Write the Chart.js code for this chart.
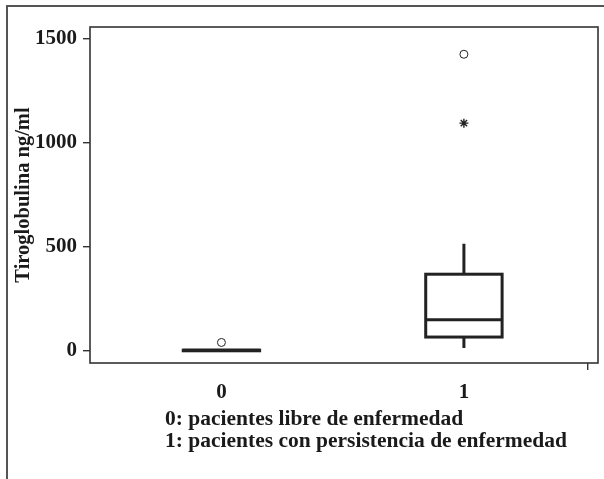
<!DOCTYPE html>
<html>
<head>
<meta charset="utf-8">
<script src="https://cdn.jsdelivr.net/npm/chart.js@4/dist/chart.umd.min.js"></script>
<style>
  html, body { margin: 0; padding: 0; background: #fff; }
  #wrap { position: relative; width: 604px; height: 479px; overflow: hidden; }
  #frame {
    position: absolute; left: 6px; top: 5px; width: 620px; height: 500px;
    border-top: 2px solid #555; border-left: 2px solid #555;
  }
  #chart { position: absolute; left: 0; top: 0; }
  #note {
    position: absolute; left: 165px; top: 408px;
    font: bold 21.5px "Liberation Serif", "Times New Roman", serif;
    line-height: 21.5px; color: #1a1a1a; white-space: nowrap;
  }
</style>
</head>
<body>
<div id="wrap">
  <div id="frame"></div>
  <canvas id="chart" width="604" height="479"></canvas>
  <div id="note">0: pacientes libre de enfermedad<br>1: pacientes con persistencia de enfermedad</div>
</div>
<script>
// Tiroglobulina por grupo (boxplot)
const groups = [0, 1];
const groupLabels = ['0', '1'];
const whiskerLow = [0, 13];
const q1 = [0, 66];
const median = [2, 149];
const q3 = [3, 368];
const whiskerHigh = [3, 514];

// outliers: circles and the extreme one drawn as asterisk
const outlierCircles = [{ x: 0, y: 40 }, { x: 1, y: 1425 }];
const outlierStars = [{ x: 1, y: 1094 }];

const yTicks = [0, 500, 1000, 1500];
const xTicks = [0, 1, 1.512];

const serif = '"Liberation Serif", "Times New Roman", serif';

// draws the boxes and whiskers from the arrays above, through the chart scales
const boxPlugin = {
    id: 'boxes',
    beforeDatasetsDraw(chart) {
        const { ctx, scales: { x, y } } = chart;
        const boxW = 0.315;
        ctx.save();
        ctx.strokeStyle = '#222';
        ctx.lineWidth = 3;
        groups.forEach((g, i) => {
            const cx = x.getPixelForValue(g);
            const left = x.getPixelForValue(g - boxW / 2);
            const right = x.getPixelForValue(g + boxW / 2);
            const yq1 = y.getPixelForValue(q1[i]);
            const yq3 = y.getPixelForValue(q3[i]);
            const ymed = y.getPixelForValue(median[i]);
            const ylo = y.getPixelForValue(whiskerLow[i]);
            const yhi = y.getPixelForValue(whiskerHigh[i]);

            ctx.beginPath();
            ctx.moveTo(cx, yq3);
            ctx.lineTo(cx, yhi);
            ctx.moveTo(cx, yq1);
            ctx.lineTo(cx, ylo);
            ctx.stroke();

            ctx.strokeRect(left, yq3, right - left, yq1 - yq3);

            ctx.beginPath();
            ctx.moveTo(left, ymed);
            ctx.lineTo(right, ymed);
            ctx.stroke();
        });
        ctx.restore();
    },
    afterDraw(chart) {
        // plot frame
        const { ctx, chartArea: a } = chart;
        ctx.save();
        ctx.strokeStyle = '#333';
        ctx.lineWidth = 1.6;
        ctx.strokeRect(a.left, a.top, a.right - a.left, a.bottom - a.top);
        ctx.restore();
    }
};

const ctx = document.getElementById('chart');
new Chart(ctx, {
    type: 'scatter',
    data: {
        datasets: [
            {
                label: 'Outliers',
                data: outlierCircles,
                pointStyle: 'circle',
                pointRadius: 4,
                borderColor: '#222',
                borderWidth: 1,
                backgroundColor: '#fff'
            },
            {
                label: 'Extremos',
                data: outlierStars,
                pointStyle: 'star',
                pointRadius: 4.5,
                borderColor: '#222',
                borderWidth: 1.4,
                backgroundColor: '#222'
            }
        ]
    },
    options: {
        responsive: false,
        animation: false,
        layout: {
            padding: { top: 27, right: 6, bottom: 76, left: 0 }
        },
        plugins: {
            legend: { display: false },
            tooltip: { enabled: false }
        },
        scales: {
            x: {
                type: 'linear',
                min: -0.542,
                max: 1.553,
                afterBuildTicks: scale => {
                    scale.ticks = xTicks.map(v => ({ value: v }));
                },
                afterFit: scale => { scale.height = 40; },
                border: { display: false },
                grid: {
                    drawOnChartArea: false,
                    tickLength: 7,
                    lineWidth: 1.4,
                    color: c => (c.tick && groups.includes(c.tick.value)) ? 'rgba(0,0,0,0)' : '#333'
                },
                ticks: {
                    padding: 10,
                    color: '#1a1a1a',
                    font: { family: serif, size: 21, weight: 'bold' },
                    callback: (v) => {
                        const i = groups.indexOf(v);
                        return i >= 0 ? groupLabels[i] : '';
                    }
                }
            },
            y: {
                min: -58.7,
                max: 1556,
                afterBuildTicks: scale => {
                    scale.ticks = yTicks.map(v => ({ value: v }));
                },
                afterFit: scale => { scale.width = 90; },
                border: { display: false },
                grid: {
                    drawOnChartArea: false,
                    tickLength: 7,
                    lineWidth: 1.4,
                    color: '#333'
                },
                title: {
                    display: true,
                    text: 'Tiroglobulina ng/ml',
                    color: '#1a1a1a',
                    padding: { top: 11, bottom: 0 },
                    font: { family: serif, size: 20.5, weight: 'bold' }
                },
                ticks: {
                    padding: 6,
                    color: '#1a1a1a',
                    font: { family: serif, size: 21, weight: 'bold' },
                    callback: v => String(v)
                }
            }
        }
    },
    plugins: [boxPlugin]
});
</script>
</body>
</html>
